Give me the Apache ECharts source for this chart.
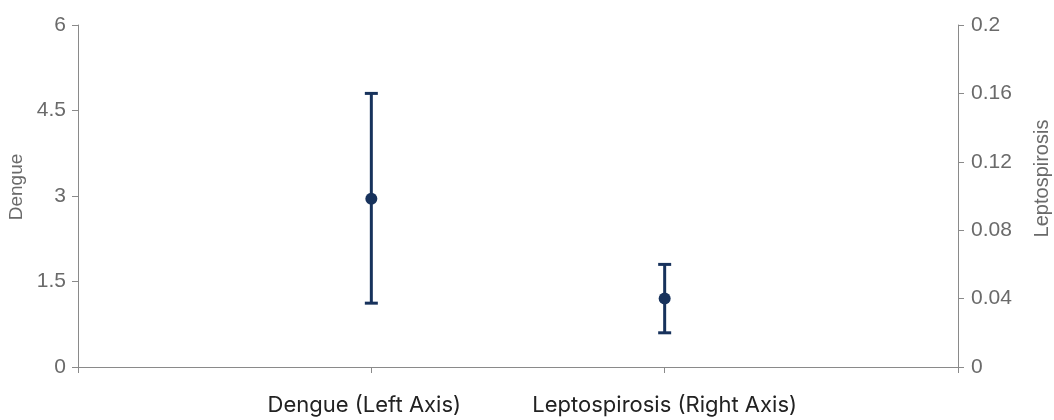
<!DOCTYPE html>
<html>
<head>
<meta charset="utf-8">
<script src="https://cdn.jsdelivr.net/npm/echarts@6/dist/echarts.min.js"></script>
<style>html,body{margin:0;padding:0;background:#fff}#c{width:1054px;height:420px}</style>
</head>
<body>
<div id="c"></div>
<script>
// categories (empty ends give the edge ticks)
var categories = ['', 'Dengue (Left Axis)', 'Leptospirosis (Right Axis)', ''];
// Dengue (left axis): mean, low, high
var dengueMean = 2.95, dengueLow = 1.12, dengueHigh = 4.8;
// Leptospirosis (right axis): mean, low, high
var leptoMean = 0.04, leptoLow = 0.02, leptoHigh = 0.06;
var leftTicks = [0, 1.5, 3, 4.5, 6];
var rightTicks = [0, 0.04, 0.08, 0.12, 0.16, 0.2];

var color = '#17325c';
var axisGray = '#8a8a8a';
var labelGray = '#6a6a6a';

function errRender(params, api) {
  var x = api.value(0);
  var lo = api.coord([x, api.value(1)]);
  var hi = api.coord([x, api.value(2)]);
  var half = 6.5;
  var st = { stroke: color, lineWidth: 3, fill: null };
  return {
    type: 'group',
    children: [
      { type: 'line', shape: { x1: lo[0], y1: lo[1], x2: hi[0], y2: hi[1] }, style: st },
      { type: 'line', shape: { x1: lo[0] - half, y1: lo[1], x2: lo[0] + half, y2: lo[1] }, style: st },
      { type: 'line', shape: { x1: hi[0] - half, y1: hi[1], x2: hi[0] + half, y2: hi[1] }, style: st }
    ]
  };
}

var chart = echarts.init(document.getElementById('c'));
chart.setOption({
  animation: false,
  grid: { left: 78, right: 96, top: 25, bottom: 53, containLabel: false, outerBoundsMode: 'none' },
  xAxis: {
    type: 'category',
    data: [
      categories[0],
      { value: categories[1], textStyle: { padding: [0, 14, 0, 0] } },
      categories[2],
      categories[3]
    ],
    boundaryGap: false,
    axisLine: { lineStyle: { color: axisGray } },
    axisTick: { show: true, length: 6, lineStyle: { color: axisGray } },
    axisLabel: { interval: 0, margin: 27, fontFamily: 'Inter', fontSize: 22, color: '#222222' },
    splitLine: { show: false }
  },
  yAxis: [
    {
      type: 'value', min: leftTicks[0], max: leftTicks[leftTicks.length - 1], interval: 1.5,
      name: 'Dengue', nameLocation: 'middle', nameGap: 48,
      nameTextStyle: { fontFamily: 'Liberation Sans', fontSize: 19, color: labelGray, padding: [0, 0, 0, 18] },
      axisLine: { show: true, lineStyle: { color: axisGray } },
      axisTick: { show: true, length: 6, lineStyle: { color: axisGray } },
      axisLabel: { margin: 12, fontFamily: 'Liberation Sans', fontSize: 21, color: labelGray },
      splitLine: { show: false }
    },
    {
      type: 'value', min: rightTicks[0], max: rightTicks[rightTicks.length - 1], interval: 0.04,
      position: 'right',
      name: 'Leptospirosis', nameLocation: 'middle', nameGap: 74,
      nameTextStyle: { fontFamily: 'Liberation Sans', fontSize: 20, color: labelGray, padding: [0, 0, 0, 35] },
      axisLine: { show: true, lineStyle: { color: axisGray } },
      axisTick: { show: true, length: 6, lineStyle: { color: axisGray } },
      axisLabel: { margin: 13, fontFamily: 'Liberation Sans', fontSize: 21, color: labelGray },
      splitLine: { show: false }
    }
  ],
  series: [
    {
      type: 'custom', yAxisIndex: 0, renderItem: errRender,
      encode: { x: 0, y: [1, 2] },
      data: [[1, dengueLow, dengueHigh]], z: 2
    },
    {
      type: 'custom', yAxisIndex: 1, renderItem: errRender,
      encode: { x: 0, y: [1, 2] },
      data: [[2, leptoLow, leptoHigh]], z: 2
    },
    {
      type: 'scatter', yAxisIndex: 0, symbolSize: 12,
      itemStyle: { color: color, opacity: 1 },
      data: [[1, dengueMean]], z: 3
    },
    {
      type: 'scatter', yAxisIndex: 1, symbolSize: 12,
      itemStyle: { color: color, opacity: 1 },
      data: [[2, leptoMean]], z: 3
    }
  ]
});
</script>
</body>
</html>
